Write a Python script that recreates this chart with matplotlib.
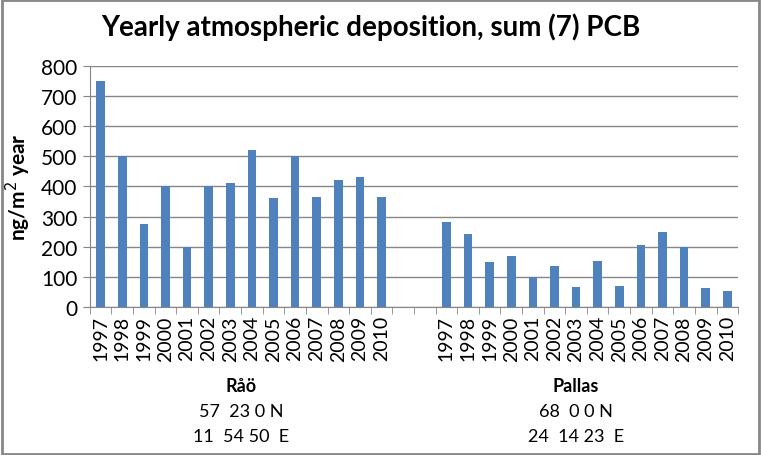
import matplotlib.pyplot as plt
import matplotlib.transforms as mtransforms
import numpy as np

plt.rcParams['font.family'] = ['Lato', 'DejaVu Sans']

years = ['1997', '1998', '1999', '2000', '2001', '2002', '2003',
         '2004', '2005', '2006', '2007', '2008', '2009', '2010']
rao = [750, 500, 275, 400, 200, 400, 410, 520, 360, 500, 365, 420, 432, 365]
pallas = [281, 242, 148, 168, 98, 135, 66, 152, 69, 204, 247, 198, 61, 53]
stations = ['Råö', 'Pallas']
lat = ['57  23 0 N', '68  0 0 N']
lon = ['11  54 50  E', '24  14 23  E']

n = len(years)
gap = 2
x_rao = np.arange(n)
x_pallas = np.arange(n) + n + gap
total = 2 * n + gap

fig = plt.figure(figsize=(7.61, 4.56), dpi=100)
ax = fig.add_axes([0.118, 0.325, 0.852, 0.528])

blue = '#4F81BD'
ax.bar(x_rao, rao, width=0.4, color=blue, zorder=3)
ax.bar(x_pallas, pallas, width=0.4, color=blue, zorder=3)

ax.set_xlim(-0.5, total - 0.5)
ax.set_ylim(0, 800)
ax.set_yticks(range(0, 801, 100))
ax.yaxis.grid(True, color='#868686', linewidth=1.0, zorder=0)
ax.tick_params(axis='y', labelsize=15, length=5, color='#868686', pad=4)

ax.set_xticks(np.concatenate([x_rao, x_pallas]))
ax.set_xticklabels(years + years, rotation=90, fontsize=14)
ax.tick_params(axis='x', which='major', length=0, pad=6)
ax.set_xticks(np.arange(-0.5, total, 1), minor=True)
ax.tick_params(axis='x', which='minor', length=5, color='#868686')

for side in ['top', 'right']:
    ax.spines[side].set_visible(False)
for side in ['left', 'bottom']:
    ax.spines[side].set_color('#868686')

ax.set_ylabel('ng/m$^2$ year', fontsize=15, fontweight='bold', labelpad=6)

fig.suptitle('Yearly atmospheric deposition, sum (7) PCB', fontsize=20,
             fontweight='bold', x=0.487, y=0.97)

trans = mtransforms.blended_transform_factory(ax.transData, fig.transFigure)
centers = [6.5, 22.0]
for c, s, la, lo in zip(centers, stations, lat, lon):
    ax.text(c, 1 - 387 / 456, s, transform=trans, ha='center', va='center',
            fontsize=13, fontweight='bold')
    ax.text(c, 1 - 412 / 456, la, transform=trans, ha='center', va='center',
            fontsize=13)
    ax.text(c, 1 - 437 / 456, lo, transform=trans, ha='center', va='center',
            fontsize=13)

border = plt.Rectangle((0.002, 0.003), 0.996, 0.994, transform=fig.transFigure,
                       fill=False, edgecolor='#888888', linewidth=2)
fig.patches.append(border)

plt.savefig('out.png', dpi=100)
